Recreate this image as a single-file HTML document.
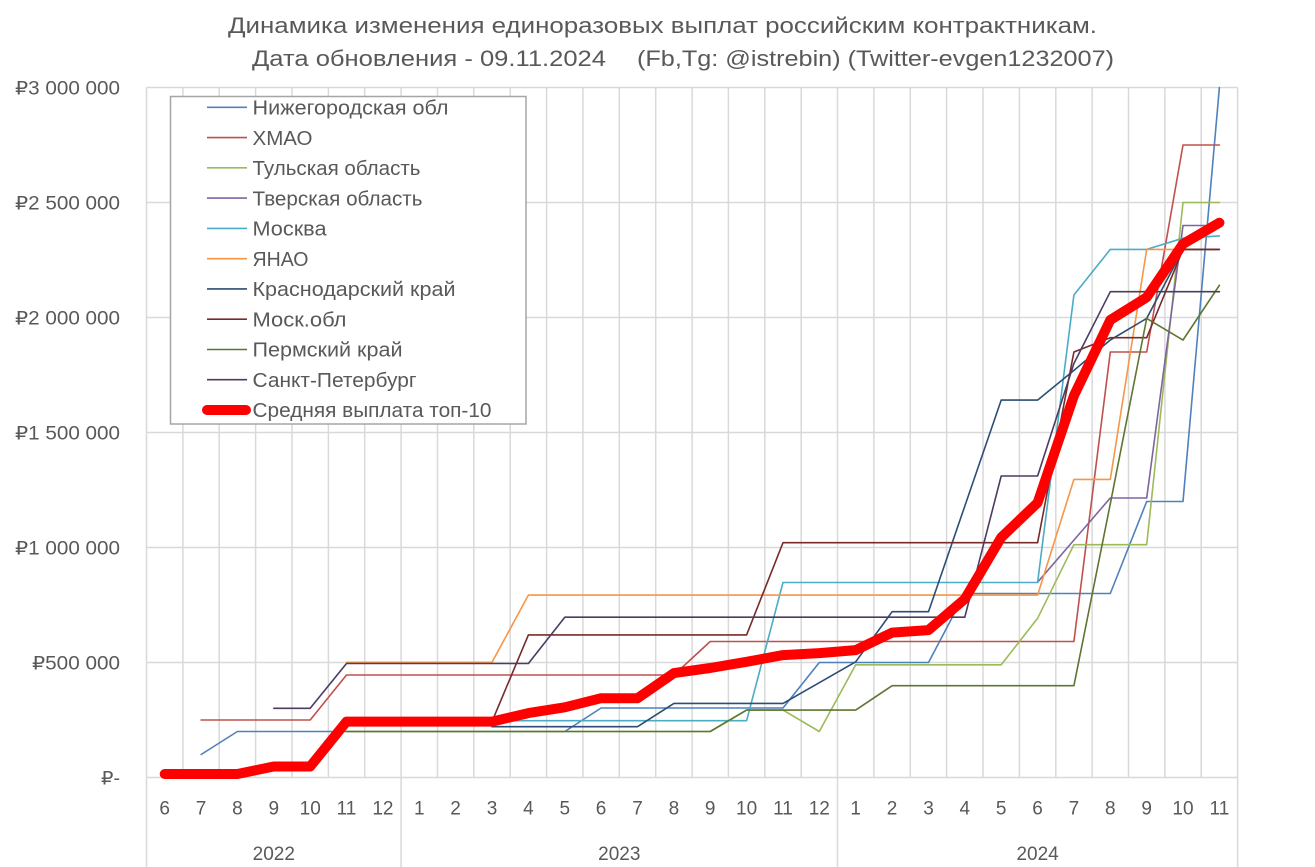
<!DOCTYPE html>
<html>
<head>
<meta charset="utf-8">
<style>
html,body{margin:0;padding:0;background:#fff;}
svg{display:block;}
text{font-family:"Liberation Sans","DejaVu Sans",sans-serif;fill:#595959;}
</style>
</head>
<body>
<svg width="1315" height="867" viewBox="0 0 1315 867" xmlns="http://www.w3.org/2000/svg">
<rect x="0" y="0" width="1315" height="867" fill="#fff"/>

<!-- Title -->
<text x="228" y="33" font-size="22" textLength="869" lengthAdjust="spacingAndGlyphs">Динамика изменения единоразовых выплат российским контрактникам.</text>
<text x="252" y="66" font-size="22" textLength="354" lengthAdjust="spacingAndGlyphs">Дата обновления - 09.11.2024</text>
<text x="637" y="66" font-size="22" textLength="477" lengthAdjust="spacingAndGlyphs">(Fb,Tg: @istrebin) (Twitter-evgen1232007)</text>

<!-- horizontal gridlines -->
<g stroke="#d9d9d9" stroke-width="1.5">
<line x1="146.5" y1="87.5" x2="1237.6" y2="87.5"/>
<line x1="146.5" y1="202.5" x2="1237.6" y2="202.5"/>
<line x1="146.5" y1="317.5" x2="1237.6" y2="317.5"/>
<line x1="146.5" y1="432.5" x2="1237.6" y2="432.5"/>
<line x1="146.5" y1="547.5" x2="1237.6" y2="547.5"/>
<line x1="146.5" y1="662.5" x2="1237.6" y2="662.5"/>
<line x1="146.5" y1="777.5" x2="1237.6" y2="777.5"/>
</g>
<!-- vertical gridlines -->
<g stroke="#d9d9d9" stroke-width="1.5">
<line x1="146.5" y1="87.5" x2="146.5" y2="867"/>
<line x1="182.9" y1="87.5" x2="182.9" y2="777.5"/>
<line x1="219.2" y1="87.5" x2="219.2" y2="777.5"/>
<line x1="255.6" y1="87.5" x2="255.6" y2="777.5"/>
<line x1="292.0" y1="87.5" x2="292.0" y2="777.5"/>
<line x1="328.4" y1="87.5" x2="328.4" y2="777.5"/>
<line x1="364.7" y1="87.5" x2="364.7" y2="777.5"/>
<line x1="401.1" y1="87.5" x2="401.1" y2="867"/>
<line x1="437.5" y1="87.5" x2="437.5" y2="777.5"/>
<line x1="473.8" y1="87.5" x2="473.8" y2="777.5"/>
<line x1="510.2" y1="87.5" x2="510.2" y2="777.5"/>
<line x1="546.6" y1="87.5" x2="546.6" y2="777.5"/>
<line x1="582.9" y1="87.5" x2="582.9" y2="777.5"/>
<line x1="619.3" y1="87.5" x2="619.3" y2="777.5"/>
<line x1="655.7" y1="87.5" x2="655.7" y2="777.5"/>
<line x1="692.1" y1="87.5" x2="692.1" y2="777.5"/>
<line x1="728.4" y1="87.5" x2="728.4" y2="777.5"/>
<line x1="764.8" y1="87.5" x2="764.8" y2="777.5"/>
<line x1="801.2" y1="87.5" x2="801.2" y2="777.5"/>
<line x1="837.5" y1="87.5" x2="837.5" y2="867"/>
<line x1="873.9" y1="87.5" x2="873.9" y2="777.5"/>
<line x1="910.3" y1="87.5" x2="910.3" y2="777.5"/>
<line x1="946.6" y1="87.5" x2="946.6" y2="777.5"/>
<line x1="983.0" y1="87.5" x2="983.0" y2="777.5"/>
<line x1="1019.4" y1="87.5" x2="1019.4" y2="777.5"/>
<line x1="1055.8" y1="87.5" x2="1055.8" y2="777.5"/>
<line x1="1092.1" y1="87.5" x2="1092.1" y2="777.5"/>
<line x1="1128.5" y1="87.5" x2="1128.5" y2="777.5"/>
<line x1="1164.9" y1="87.5" x2="1164.9" y2="777.5"/>
<line x1="1201.2" y1="87.5" x2="1201.2" y2="777.5"/>
<line x1="1237.6" y1="87.5" x2="1237.6" y2="867"/>
</g>

<!-- Y axis labels -->
<g font-size="19" text-anchor="end">
<text x="120" y="94.5" textLength="105" lengthAdjust="spacingAndGlyphs">₽3 000 000</text>
<text x="120" y="209.5" textLength="105" lengthAdjust="spacingAndGlyphs">₽2 500 000</text>
<text x="120" y="324.5" textLength="105" lengthAdjust="spacingAndGlyphs">₽2 000 000</text>
<text x="120" y="439.5" textLength="105" lengthAdjust="spacingAndGlyphs">₽1 500 000</text>
<text x="120" y="554.5" textLength="105" lengthAdjust="spacingAndGlyphs">₽1 000 000</text>
<text x="120" y="669.5" textLength="88" lengthAdjust="spacingAndGlyphs">₽500 000</text>
<text x="120" y="784.5" textLength="19" lengthAdjust="spacingAndGlyphs">₽-</text>
</g>

<!-- X axis month labels -->
<g font-size="19" text-anchor="middle">
<text x="164.7" y="814.5">6</text>
<text x="201.1" y="814.5">7</text>
<text x="237.4" y="814.5">8</text>
<text x="273.8" y="814.5">9</text>
<text x="310.2" y="814.5">10</text>
<text x="346.5" y="814.5">11</text>
<text x="382.9" y="814.5">12</text>
<text x="419.3" y="814.5">1</text>
<text x="455.6" y="814.5">2</text>
<text x="492.0" y="814.5">3</text>
<text x="528.4" y="814.5">4</text>
<text x="564.8" y="814.5">5</text>
<text x="601.1" y="814.5">6</text>
<text x="637.5" y="814.5">7</text>
<text x="673.9" y="814.5">8</text>
<text x="710.2" y="814.5">9</text>
<text x="746.6" y="814.5">10</text>
<text x="783.0" y="814.5">11</text>
<text x="819.3" y="814.5">12</text>
<text x="855.7" y="814.5">1</text>
<text x="892.1" y="814.5">2</text>
<text x="928.5" y="814.5">3</text>
<text x="964.8" y="814.5">4</text>
<text x="1001.2" y="814.5">5</text>
<text x="1037.6" y="814.5">6</text>
<text x="1073.9" y="814.5">7</text>
<text x="1110.3" y="814.5">8</text>
<text x="1146.7" y="814.5">9</text>
<text x="1183.0" y="814.5">10</text>
<text x="1219.4" y="814.5">11</text>
<text x="273.8" y="860">2022</text>
<text x="619.3" y="860">2023</text>
<text x="1037.6" y="860">2024</text>
</g>

<!-- Series -->
<g fill="none" stroke-width="1.6" stroke-linejoin="round" stroke-linecap="round">
<!-- Нижегородская -->
<polyline stroke="#4F81BD" points="201.1,754.5 237.4,731.5 564.8,731.5 601.1,708.0 783.0,708.0 819.3,662.5 928.5,662.5 964.8,593.5 1110.3,593.5 1146.7,501.5 1183.0,501.5 1219.4,87.5"/>
<!-- ХМАО -->
<polyline stroke="#C0504D" points="201.1,720.0 310.2,720.0 346.5,675.0 673.9,675.0 710.2,641.5 1073.9,641.5 1110.3,352.0 1146.7,352.0 1183.0,145.0 1219.4,145.0"/>
<!-- Тульская -->
<polyline stroke="#9BBB59" points="346.5,731.5 710.2,731.5 746.6,710.1 783.0,710.1 819.3,731.5 855.7,664.8 1001.2,664.8 1037.6,618.3 1073.9,544.7 1146.7,544.7 1183.0,202.5 1219.4,202.5"/>
<!-- Тверская -->
<polyline stroke="#8064A2" points="1037.6,582.2 1073.9,540.1 1110.3,498.0 1146.7,498.0 1183.0,225.5 1219.4,225.5"/>
<!-- Москва -->
<polyline stroke="#4BACC6" points="492.0,720.7 746.6,720.7 783.0,582.5 1037.6,582.5 1073.9,295.0 1110.3,249.4 1146.7,249.4 1183.0,238.2 1219.4,235.9"/>
<!-- ЯНАО -->
<polyline stroke="#F79646" points="346.5,662.3 492.0,662.3 528.4,595.1 1037.6,595.1 1073.9,479.4 1110.3,479.4 1146.7,249.4 1219.4,249.4"/>
<!-- Краснодарский -->
<polyline stroke="#2C4D75" points="492.0,726.7 637.5,726.7 673.9,703.4 783.0,703.4 819.3,682.7 855.7,661.8 892.1,611.7 928.5,611.7 964.8,506.1 1001.2,400.1 1037.6,400.1 1073.9,370.4 1110.3,340.0 1146.7,318.4 1183.0,249.4 1219.4,249.4"/>
<!-- Моск.обл -->
<polyline stroke="#772C2A" points="492.0,721.6 528.4,634.9 746.6,634.9 783.0,542.7 1037.6,542.7 1073.9,352.0 1110.3,337.7 1146.7,337.7 1183.0,249.4 1219.4,249.4"/>
<!-- Пермский -->
<polyline stroke="#5F7530" points="346.5,731.5 710.2,731.5 746.6,710.1 855.7,710.1 892.1,685.7 1073.9,685.7 1110.3,503.8 1146.7,318.4 1183.0,340.0 1219.4,285.3"/>
<!-- Санкт-Петербург -->
<polyline stroke="#4D3B62" points="273.8,708.3 310.2,708.3 346.5,663.5 528.4,663.5 564.8,617.2 964.8,617.2 1001.2,476.0 1037.6,476.0 1073.9,363.5 1110.3,291.7 1219.4,291.7"/>
<!-- Средняя -->
<polyline stroke="#FF0000" stroke-width="10" points="164.7,774.0 237.4,774.0 273.8,766.5 310.2,766.5 346.5,721.6 492.0,721.6 528.4,713.1 564.8,707.3 601.1,698.2 637.5,698.2 673.9,673.1 710.2,668.0 746.6,661.8 783.0,655.1 819.3,653.1 855.7,650.1 892.1,632.6 928.5,630.1 964.8,599.0 1001.2,537.5 1037.6,502.7 1073.9,395.7 1110.3,320.0 1146.7,297.3 1183.0,243.9 1219.4,222.7"/>
</g>

<!-- Legend -->
<rect x="170.5" y="96.5" width="355.5" height="327.5" fill="#fff" stroke="#a6a6a6" stroke-width="1.5"/>
<g stroke-width="1.6">
<line x1="207" y1="107.3" x2="247" y2="107.3" stroke="#4F81BD"/>
<line x1="207" y1="137.6" x2="247" y2="137.6" stroke="#C0504D"/>
<line x1="207" y1="167.8" x2="247" y2="167.8" stroke="#9BBB59"/>
<line x1="207" y1="198.1" x2="247" y2="198.1" stroke="#8064A2"/>
<line x1="207" y1="228.4" x2="247" y2="228.4" stroke="#4BACC6"/>
<line x1="207" y1="258.7" x2="247" y2="258.7" stroke="#F79646"/>
<line x1="207" y1="288.9" x2="247" y2="288.9" stroke="#2C4D75"/>
<line x1="207" y1="319.2" x2="247" y2="319.2" stroke="#772C2A"/>
<line x1="207" y1="349.5" x2="247" y2="349.5" stroke="#5F7530"/>
<line x1="207" y1="379.7" x2="247" y2="379.7" stroke="#4D3B62"/>
<line x1="207" y1="410.0" x2="246" y2="410.0" stroke="#FF0000" stroke-width="10" stroke-linecap="round"/>
</g>
<g font-size="20">
<text x="252.5" y="114.5" textLength="196" lengthAdjust="spacingAndGlyphs">Нижегородская обл</text>
<text x="252.5" y="144.8" textLength="60" lengthAdjust="spacingAndGlyphs">ХМАО</text>
<text x="252.5" y="175.0" textLength="168" lengthAdjust="spacingAndGlyphs">Тульская область</text>
<text x="252.5" y="205.3" textLength="170" lengthAdjust="spacingAndGlyphs">Тверская область</text>
<text x="252.5" y="235.6" textLength="74" lengthAdjust="spacingAndGlyphs">Москва</text>
<text x="252.5" y="265.9" textLength="56" lengthAdjust="spacingAndGlyphs">ЯНАО</text>
<text x="252.5" y="296.1" textLength="203" lengthAdjust="spacingAndGlyphs">Краснодарский край</text>
<text x="252.5" y="326.4" textLength="94" lengthAdjust="spacingAndGlyphs">Моск.обл</text>
<text x="252.5" y="356.7" textLength="150" lengthAdjust="spacingAndGlyphs">Пермский край</text>
<text x="252.5" y="386.9" textLength="164" lengthAdjust="spacingAndGlyphs">Санкт-Петербург</text>
<text x="252.5" y="417.2" textLength="239" lengthAdjust="spacingAndGlyphs">Средняя выплата топ-10</text>
</g>
</svg>
</body>
</html>
